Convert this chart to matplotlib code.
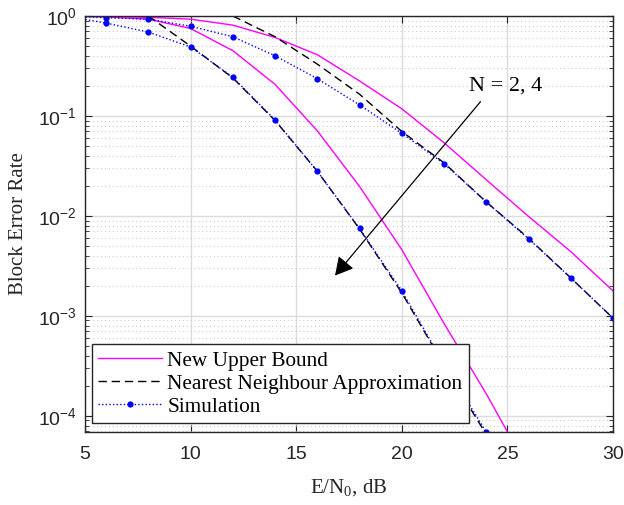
import numpy as np
import matplotlib
matplotlib.use("Agg")
import matplotlib.pyplot as plt
from matplotlib.ticker import LogLocator, NullFormatter, FixedLocator

# Eb/N0 grid (dB) for the simulated points and the analytic curves
snr_sim_n2 = [4, 6, 8, 10, 12, 14, 16, 18, 20, 22, 24, 26, 28, 30]
sim_n2 = [1.0, 0.96, 0.93, 0.79, 0.62, 0.40, 0.236, 0.129, 0.067, 0.0334,
          0.0138, 0.0059, 0.0024, 0.00095]
snr_sim_n4 = [4, 6, 8, 10, 12, 14, 16, 18, 20, 22, 24]
sim_n4 = [1.0, 0.85, 0.69, 0.49, 0.244, 0.091, 0.028, 0.0075, 0.00178,
          3.3e-4, 6.9e-5]

snr_ub_n2 = [4, 6, 8, 10, 12, 14, 16, 18, 20, 22, 24, 26, 28, 30]
ub_n2 = [1.0, 0.99, 0.97, 0.93, 0.81, 0.61, 0.41, 0.224, 0.118, 0.054,
         0.023, 0.0099, 0.0044, 0.00178]
snr_ub_n4 = [4, 6, 8, 10, 12, 14, 16, 18, 20, 22, 24, 26]
ub_n4 = [1.0, 0.98, 0.93, 0.75, 0.45, 0.207, 0.071, 0.0197, 0.0046,
         8.4e-4, 1.66e-4, 2.9e-5]

snr_nn_n2 = [12, 14, 16, 18, 20, 22, 24, 26, 28, 30]
nn_n2 = [1.0, 0.62, 0.33, 0.165, 0.07, 0.034, 0.0138, 0.006, 0.0024, 0.00095]
snr_nn_n4 = [8, 10, 12, 14, 16, 18, 20, 22, 24]
nn_n4 = [1.0, 0.5, 0.24, 0.09, 0.028, 0.0074, 0.0017, 3.2e-4, 6.5e-5]

plt.rcParams['font.family'] = ['Liberation Sans', 'DejaVu Sans']
serif = ['Liberation Serif', 'DejaVu Serif']
dark = '#262626'

fig = plt.figure(figsize=(6.24, 5.05), dpi=100)
ax = fig.add_axes([85 / 624, 1 - 432 / 505, 528 / 624, 416 / 505])

dash = (0, (6, 3.5))
dots = (0, (1, 1.6))
for x, y in [(snr_ub_n2, ub_n2), (snr_ub_n4, ub_n4)]:
    ax.plot(x, y, color='#ff00ff', lw=1.0, label='New Upper Bound')
for x, y in [(snr_nn_n2, nn_n2), (snr_nn_n4, nn_n4)]:
    ax.plot(x, y, color='black', lw=1.0, linestyle=dash,
            label='Nearest Neighbour Approximation')
for x, y in [(snr_sim_n2, sim_n2), (snr_sim_n4, sim_n4)]:
    ax.plot(x, y, color='#0000ff', lw=1.0, linestyle=dots, marker='o',
            ms=4.5, mec='none', label='Simulation')

ax.set_yscale('log')
ax.set_xlim(5, 30)
ax.set_ylim(6.9e-5, 1)
ax.xaxis.set_major_locator(FixedLocator([5, 10, 15, 20, 25, 30]))
ax.yaxis.set_major_locator(LogLocator(base=10, numticks=10))
ax.yaxis.set_minor_locator(LogLocator(base=10, subs=np.arange(2, 10), numticks=20))
ax.yaxis.set_minor_formatter(NullFormatter())

ax.grid(True, which='major', color='#dcdcdc', lw=1.0, linestyle='-')
ax.grid(True, which='minor', axis='y', color='#cccccc', lw=0.8, linestyle=(0, (1, 2.5)))
ax.set_axisbelow(True)

for s in ax.spines.values():
    s.set_color(dark)
    s.set_linewidth(1.0)
ax.tick_params(which='both', direction='in', top=True, right=True, colors=dark,
               labelcolor=dark)
ax.tick_params(which='major', length=5, labelsize=14)
ax.tick_params(which='minor', length=3)
ax.tick_params(axis='x', pad=10)
ax.tick_params(axis='y', pad=6)

ax.set_xlabel(r'E/N$_{\mathregular{0}}$, dB', family=serif, fontsize=15,
              color=dark, labelpad=11)
ax.set_ylabel('Block Error Rate', family=serif, fontsize=15, color=dark,
              labelpad=7)

handles, labels = ax.get_legend_handles_labels()
leg = ax.legend([handles[0], handles[2], handles[4]],
                [labels[0], labels[2], labels[4]],
                loc='lower left', bbox_to_anchor=(0.0127, 0.0216),
                borderaxespad=0, fancybox=False, framealpha=1,
                edgecolor=dark, prop={'family': serif, 'size': 15.3},
                handlelength=3.0, handletextpad=0.25, borderpad=0.3,
                labelspacing=0.15)
leg.get_frame().set_linewidth(1.0)

ax.annotate('', xy=(0.4735, 0.376), xytext=(0.749, 0.794),
            xycoords='axes fraction', textcoords='axes fraction',
            arrowprops=dict(arrowstyle='-|>,head_length=0.55,head_width=0.3',
                            color='black', lw=0.9, mutation_scale=20,
                            shrinkA=0, shrinkB=0))
ax.text(0.797, 0.832, 'N = 2, 4', transform=ax.transAxes, family=serif,
        fontsize=16, ha='center', va='center', color='black')

fig.savefig('out.png', dpi=100)
